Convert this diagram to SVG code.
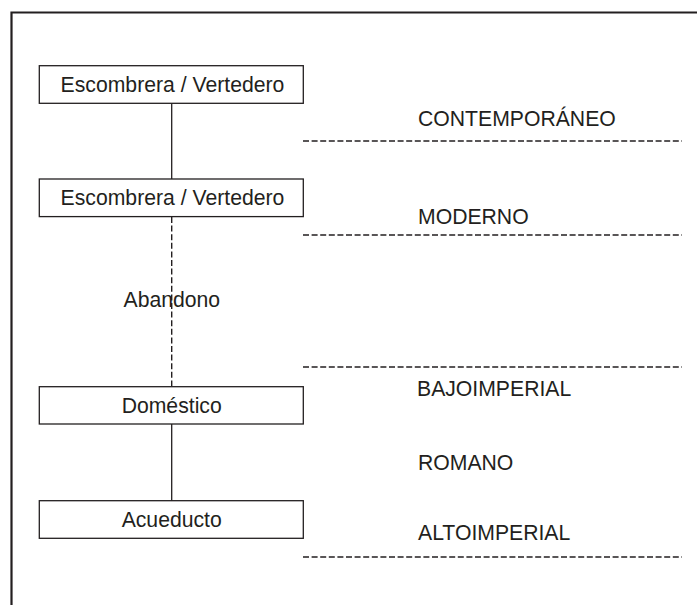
<svg xmlns="http://www.w3.org/2000/svg" width="697" height="605" viewBox="0 0 697 605">
<style>
text{font-family:"Liberation Sans",Arial,sans-serif;font-size:21.2px;fill:#231f20}
.box{fill:#fff;stroke:#231f20;stroke-width:1.3}
.solid{stroke:#231f20;stroke-width:1.3;fill:none}
.dash{stroke:#231f20;stroke-width:1.4;fill:none;stroke-dasharray:6 2.6}
.c{text-anchor:middle}
</style>
<rect width="697" height="605" fill="#fff"/>
<path d="M11.5 605 V12.5 H697" fill="none" stroke="#231f20" stroke-width="2.2"/>
<g id="connectors">
<line class="solid" x1="171.7" y1="103.3" x2="171.7" y2="179"/>
<line class="dash" x1="171.7" y1="217" x2="171.7" y2="387"/>
<line class="solid" x1="171.7" y1="424" x2="171.7" y2="501"/>
</g>
<g id="periods">
<line class="dash" x1="303" y1="141" x2="682" y2="141"/>
<line class="dash" x1="303" y1="235" x2="682" y2="235"/>
<line class="dash" x1="303" y1="367" x2="682" y2="367"/>
<line class="dash" x1="303" y1="557" x2="682" y2="557"/>
<text x="418" y="126">CONTEMPORÁNEO</text>
<text x="418" y="223.5">MODERNO</text>
<text x="417" y="396">BAJOIMPERIAL</text>
<text x="418" y="470">ROMANO</text>
<text x="418" y="539.5">ALTOIMPERIAL</text>
</g>
<g id="n1"><rect class="box" x="39.3" y="65.7" width="264" height="37.6"/><text class="c" x="172.5" y="91.7">Escombrera / Vertedero</text></g>
<g id="n2"><rect class="box" x="39.3" y="179" width="264" height="37.6"/><text class="c" x="172.5" y="205">Escombrera / Vertedero</text></g>
<g id="abandono"><text x="123.5" y="307.3">Abandono</text></g>
<g id="n3"><rect class="box" x="39.3" y="386.7" width="264" height="37.3"/><text class="c" x="171.7" y="413.3">Doméstico</text></g>
<g id="n4"><rect class="box" x="39.3" y="500.7" width="264" height="37.6"/><text class="c" x="171.7" y="526.7">Acueducto</text></g>
</svg>
